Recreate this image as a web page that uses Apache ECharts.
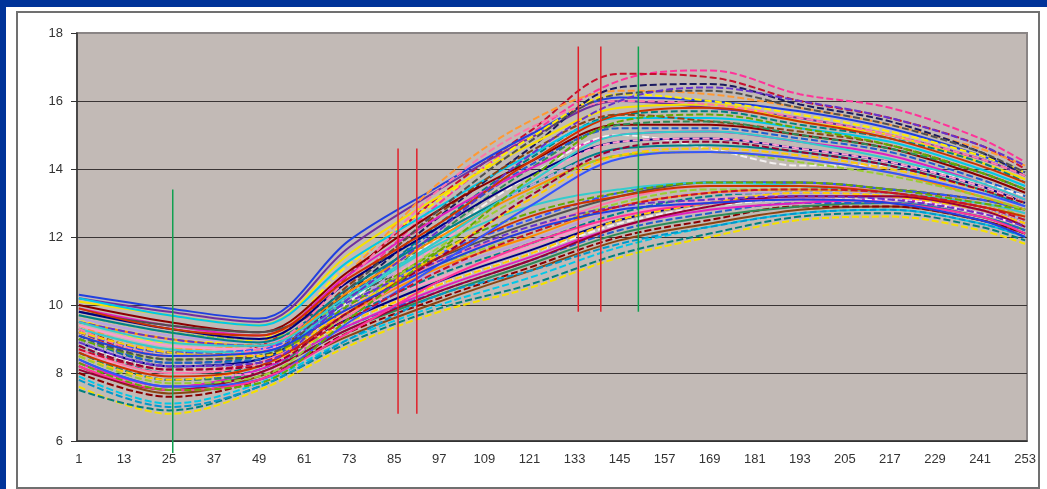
<!DOCTYPE html>
<html>
<head>
<meta charset="utf-8">
<script src="https://cdn.jsdelivr.net/npm/echarts@6/dist/echarts.min.js"></script>
<style>
  html, body { margin: 0; padding: 0; width: 1047px; height: 489px; overflow: hidden; background: #003399; }
  #sheet { position: absolute; left: 6px; top: 7px; width: 1041px; height: 482px; background: #ffffff; }
  #frame { position: absolute; left: 16px; top: 11px; width: 1020px; height: 474px; border: 2px solid #707070; }
  #chart { position: absolute; left: 0; top: 0; width: 1047px; height: 489px; }
</style>
</head>
<body>
<div id="sheet"></div>
<div id="frame"></div>
<div id="chart"></div>
<script>
// Day index labels 1..253 along the bottom axis
const days = Array.from({ length: 253 }, (_, i) => String(i + 1));

// Days at which each growth curve is sampled
const sampleDays = [1, 25, 49, 73, 97, 121, 145, 169, 193, 217, 241, 253];

// Curves that climb to a high summer peak (values at sampleDays)
const highCurves = [
  [9.0, 8.3, 8.6, 10.6, 13.0, 15.0, 16.6, 16.9, 16.2, 15.8, 14.9, 14.2],
  [9.2, 8.5, 8.8, 10.9, 13.2, 15.1, 16.8, 16.7, 16.0, 15.5, 14.7, 14.0],
  [10.3, 9.9, 9.6, 11.9, 13.5, 15.0, 16.1, 16.0, 15.7, 15.2, 14.4, 13.9],
  [10.2, 9.8, 9.5, 11.7, 13.4, 14.9, 16.0, 15.8, 15.5, 15.0, 14.3, 13.8],
  [9.4, 8.7, 8.9, 11.0, 13.6, 15.4, 16.3, 16.2, 15.8, 15.3, 14.6, 14.1],
  [9.6, 8.9, 9.0, 11.2, 13.1, 14.9, 16.2, 16.0, 15.6, 15.1, 14.4, 13.9],
  [9.0, 8.2, 8.4, 10.4, 12.6, 14.6, 16.4, 16.5, 15.9, 15.4, 14.5, 13.8],
  [10.1, 9.7, 9.4, 11.5, 13.2, 14.7, 15.8, 15.9, 15.4, 15.0, 14.2, 13.7],
  [8.8, 8.0, 8.2, 10.2, 12.4, 14.3, 15.6, 15.7, 15.3, 14.9, 14.2, 13.6],
  [10.2, 9.7, 9.4, 11.3, 12.9, 14.4, 15.5, 15.5, 15.2, 14.8, 14.0, 13.5],
  [9.3, 8.6, 8.6, 10.6, 12.7, 14.5, 15.6, 15.4, 15.1, 14.7, 13.9, 13.4],
  [10.0, 9.5, 9.2, 11.0, 12.8, 14.2, 15.3, 15.3, 15.0, 14.6, 13.8, 13.3],
  [8.6, 7.8, 8.0, 10.0, 12.1, 14.0, 15.3, 15.4, 15.0, 14.6, 13.9, 13.4],
  [9.1, 8.3, 8.4, 10.3, 12.3, 14.1, 15.2, 15.2, 14.9, 14.5, 13.7, 13.2],
  [9.9, 9.4, 9.1, 10.9, 12.6, 14.0, 15.0, 15.1, 14.8, 14.4, 13.6, 13.1],
  [8.9, 8.1, 8.2, 10.1, 12.0, 13.8, 15.0, 14.6, 14.1, 14.1, 13.6, 13.2],
  [9.8, 9.3, 9.0, 10.7, 12.3, 13.8, 14.8, 14.9, 14.6, 14.2, 13.5, 13.0],
  [8.7, 7.9, 8.0, 9.9, 11.8, 13.6, 14.8, 14.9, 14.6, 14.2, 13.5, 13.0],
  [9.7, 9.2, 8.9, 10.5, 12.1, 13.5, 14.6, 14.7, 14.5, 14.1, 13.4, 12.9],
  [9.0, 8.2, 8.3, 10.0, 11.9, 13.5, 14.5, 14.6, 14.4, 14.0, 13.3, 12.9],
  [9.5, 9.0, 8.8, 10.4, 12.0, 13.4, 14.4, 14.5, 14.3, 13.9, 13.2, 12.8],
  [8.5, 7.7, 7.9, 9.8, 11.7, 13.3, 14.4, 14.5, 14.2, 13.8, 13.2, 12.8],
  [9.3, 8.5, 8.7, 10.8, 13.4, 15.2, 16.0, 15.9, 15.5, 15.0, 14.3, 13.8],
  [9.1, 8.4, 8.5, 10.5, 12.8, 14.8, 16.2, 16.3, 15.8, 15.3, 14.5, 13.9],
  [8.4, 7.6, 7.8, 9.5, 11.2, 12.9, 14.3, 14.5, 14.3, 13.9, 13.3, 12.9],
  [9.2, 8.6, 8.5, 9.9, 11.5, 13.1, 14.4, 14.6, 14.4, 14.0, 13.4, 13.0],
  [8.8, 8.1, 8.2, 9.8, 11.4, 13.2, 14.6, 14.8, 14.5, 14.1, 13.4, 13.0],
  [9.5, 8.9, 8.8, 10.3, 11.9, 13.6, 15.0, 15.1, 14.8, 14.3, 13.6, 13.1],
  [8.3, 7.5, 7.7, 9.6, 11.6, 13.7, 15.4, 15.6, 15.2, 14.7, 13.9, 13.4],
  [9.9, 9.3, 9.1, 10.8, 12.4, 14.2, 15.6, 15.8, 15.4, 14.9, 14.1, 13.6],
  [8.9, 8.2, 8.3, 10.2, 12.2, 14.4, 16.0, 16.4, 16.0, 15.5, 14.7, 14.1]
];

// Curves that level off lower (values at sampleDays)
const lowCurves = [
  [7.6, 6.8, 7.5, 8.8, 9.8, 10.5, 11.4, 12.0, 12.5, 12.6, 12.2, 11.8],
  [7.5, 6.9, 7.6, 8.9, 9.9, 10.6, 11.5, 12.1, 12.6, 12.7, 12.3, 11.9],
  [7.9, 7.1, 7.7, 9.0, 10.0, 10.8, 11.7, 12.3, 12.7, 12.8, 12.4, 12.0],
  [8.2, 7.4, 7.9, 9.1, 10.1, 11.0, 11.9, 12.4, 12.8, 12.9, 12.5, 12.1],
  [8.0, 7.3, 7.8, 9.2, 10.2, 11.1, 12.0, 12.5, 12.9, 12.9, 12.5, 12.1],
  [8.4, 7.6, 8.0, 9.3, 10.3, 11.2, 12.1, 12.6, 12.9, 13.0, 12.6, 12.2],
  [8.6, 7.8, 8.1, 9.4, 10.4, 11.3, 12.2, 12.7, 13.0, 13.0, 12.6, 12.2],
  [8.3, 7.6, 8.1, 9.4, 10.5, 11.4, 12.3, 12.8, 13.0, 13.1, 12.7, 12.3],
  [8.8, 8.0, 8.3, 9.5, 10.6, 11.5, 12.4, 12.9, 13.1, 13.1, 12.7, 12.3],
  [8.9, 8.2, 8.4, 9.6, 10.7, 11.6, 12.5, 13.0, 13.2, 13.2, 12.8, 12.4],
  [9.4, 8.8, 8.7, 9.8, 10.8, 11.7, 12.6, 13.1, 13.2, 13.2, 12.8, 12.4],
  [9.0, 8.3, 8.5, 9.7, 10.9, 11.8, 12.7, 13.2, 13.3, 13.3, 12.9, 12.5],
  [9.6, 9.1, 8.9, 9.9, 11.0, 11.9, 12.8, 13.3, 13.3, 13.3, 12.9, 12.5],
  [9.1, 8.5, 8.6, 9.8, 11.1, 12.0, 12.9, 13.3, 13.4, 13.3, 12.9, 12.6],
  [9.7, 9.2, 9.0, 10.1, 11.2, 12.1, 13.0, 13.4, 13.4, 13.4, 13.0, 12.6],
  [8.7, 8.0, 8.3, 9.7, 11.3, 12.2, 13.1, 13.5, 13.5, 13.4, 13.0, 12.7],
  [9.8, 9.4, 9.2, 10.3, 11.4, 12.4, 13.2, 13.6, 13.6, 13.4, 13.1, 12.8],
  [9.2, 8.6, 8.7, 10.0, 11.5, 12.5, 13.3, 13.6, 13.6, 13.4, 13.1, 12.8],
  [8.5, 7.8, 8.2, 9.5, 10.6, 11.5, 12.5, 13.0, 13.3, 13.2, 12.8, 12.4],
  [8.1, 7.5, 8.0, 9.3, 10.4, 11.3, 12.3, 12.9, 13.2, 13.2, 12.8, 12.3],
  [9.3, 8.7, 8.6, 10.2, 11.8, 12.9, 13.4, 13.6, 13.5, 13.3, 13.0, 12.7],
  [9.0, 8.4, 8.5, 10.0, 11.6, 12.7, 13.3, 13.6, 13.6, 13.4, 13.0, 12.8],
  [8.6, 7.9, 8.2, 9.8, 11.4, 12.6, 13.2, 13.5, 13.5, 13.3, 12.9, 12.6],
  [9.5, 9.0, 8.8, 10.1, 11.3, 12.3, 12.9, 13.1, 13.2, 13.1, 12.7, 12.3],
  [7.8, 7.0, 7.6, 9.0, 10.3, 11.0, 11.8, 12.3, 12.7, 12.8, 12.4, 12.0],
  [8.2, 7.5, 7.8, 9.2, 10.7, 11.8, 12.6, 13.0, 13.1, 13.0, 12.6, 12.1],
  [8.7, 8.1, 8.3, 9.6, 11.0, 12.1, 12.9, 13.3, 13.4, 13.3, 12.9, 12.5],
  [9.1, 8.5, 8.6, 9.9, 11.2, 12.2, 12.8, 13.0, 13.1, 13.0, 12.5, 12.0]
];

// Line colours, cycled over the curves
const palette = [
  '#ff3399', '#c8102e', '#2040e0', '#7030a0', '#ff9933', '#ffee00', '#1a1a60', '#f5e000',
  '#008080', '#00c8e8', '#8b4513', '#8b0000', '#2e8b57', '#1f5fd0', '#e020c0', '#f4f0f0',
  '#000080', '#ff99cc', '#00808a', '#b9a0e0', '#ff8c00', '#9acd32', '#ff77aa', '#505050',
  '#3355ff', '#ffcc00', '#990033', '#33cccc', '#66aa00', '#cc3300', '#6633cc', '#0099cc'
];

// Dashed (1) or solid (0) per curve
const highDashed = [1,1,0,0,1,1,1,0,1,0,1,0,1,1,0,1,0,1,0,1,0,1,1,1,0,1,1,0,1,0,1];
const lowDashed  = [1,1,1,0,1,0,1,0,1,0,0,1,0,0,1,0,0,1,1,0,0,1,0,1,1,0,1,0];

// Vertical reference markers
const markerDays    = [26, 86, 91, 134, 140, 150];
const markerTops    = [13.4, 14.6, 14.6, 17.6, 17.6, 17.6];
const markerBottoms = [5.65, 6.8, 6.8, 9.8, 9.8, 9.8];
const markerColors  = ['#10a050', '#e0202a', '#e0202a', '#e0202a', '#e0202a', '#10a050'];

function curveSeries(values, idx, dashed, colorOffset) {
  return {
    type: 'line',
    data: values.map((v, k) => [sampleDays[k] - 1, v]),
    smooth: 0.35,
    symbol: 'none',
    silent: true,
    lineStyle: {
      width: 2,
      color: palette[(idx + colorOffset) % palette.length],
      type: dashed ? [7, 3] : 'solid'
    },
    z: 2
  };
}

const series = [];
const n = Math.max(highCurves.length, lowCurves.length);
for (let i = 0; i < n; i++) {
  if (i < lowCurves.length) series.push(curveSeries(lowCurves[i], i, lowDashed[i], 7));
  if (i < highCurves.length) series.push(curveSeries(highCurves[i], i, highDashed[i], 0));
}
markerDays.forEach((d, i) => {
  series.push({
    type: 'line',
    data: [[d - 1, markerTops[i]], [d - 1, markerBottoms[i]]],
    symbol: 'none',
    silent: true,
    clip: false,
    lineStyle: { width: 1.5, color: markerColors[i] },
    z: 5
  });
});

const chart = echarts.init(document.getElementById('chart'), null, { renderer: 'canvas' });
chart.setOption({
  animation: false,
  backgroundColor: 'transparent',
  grid: {
    left: 77, top: 33, right: 20, bottom: 48,
    show: true,
    backgroundColor: '#c2bab6',
    borderColor: '#8a8585',
    borderWidth: 2
  },
  xAxis: {
    type: 'category',
    data: days,
    boundaryGap: true,
    axisLine: { lineStyle: { color: '#333', width: 1.5 } },
    axisTick: { interval: 0, length: 4, lineStyle: { color: '#333', width: 1 } },
    axisLabel: {
      interval: 11,
      margin: 12,
      color: '#333',
      fontSize: 13,
      fontFamily: 'Liberation Sans, Arial, sans-serif'
    },
    splitLine: { show: false }
  },
  yAxis: {
    type: 'value',
    min: 6,
    max: 18,
    interval: 2,
    axisLine: { show: true, lineStyle: { color: '#333', width: 1.5 } },
    axisTick: { show: true, length: 6, lineStyle: { color: '#333' } },
    axisLabel: {
      margin: 14,
      color: '#333',
      fontSize: 13,
      fontFamily: 'Liberation Sans, Arial, sans-serif'
    },
    splitLine: { show: true, lineStyle: { color: ['#333', '#3a3535', '#3a3535', '#3a3535', '#3a3535', '#3a3535', '#8a8585'], width: 1.2 } }
  },
  series: series
});
</script>
</body>
</html>
